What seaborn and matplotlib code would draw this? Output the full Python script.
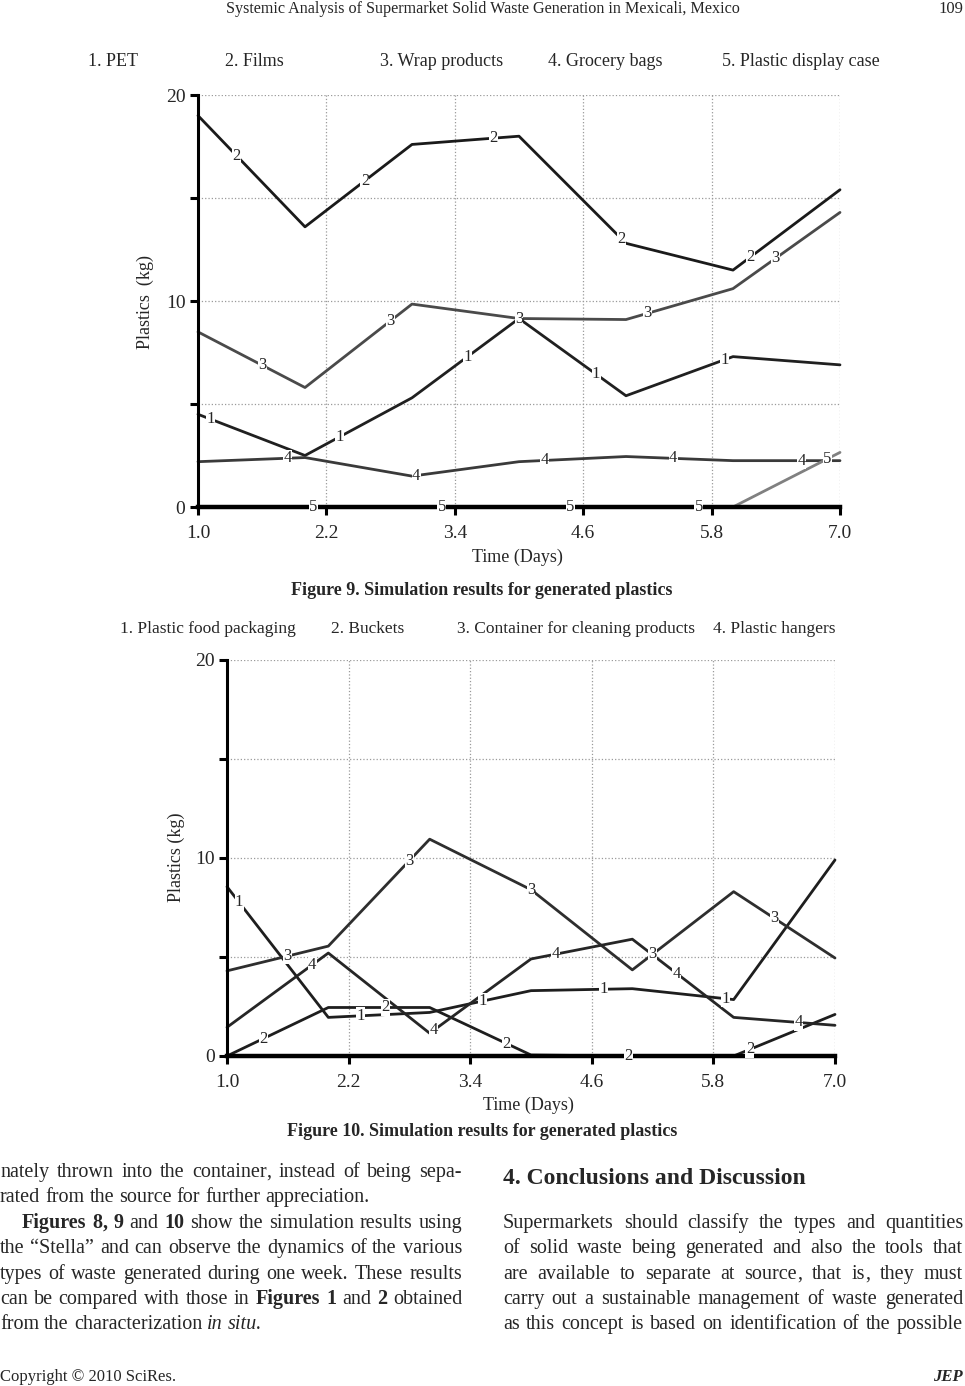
import numpy as np
import pandas as pd
import matplotlib
matplotlib.use('Agg')
import matplotlib.pyplot as plt
import seaborn as sns

# simulated days
days = [1, 2, 3, 4, 5, 6, 7]

# Figure 9 - plastics (kg)
pet = [4.5, 2.5, 5.3, 9.15, 5.4, 7.3, 6.9]
films = [19.0, 13.6, 17.6, 18.0, 12.8, 11.5, 15.4]
wrap = [8.5, 5.8, 9.85, 9.15, 9.1, 10.6, 14.3]
grocery = [2.2, 2.4, 1.5, 2.2, 2.45, 2.25, 2.25]
display_case = [0, 0, 0, 0, 0, 0, 2.65]
fig9_names = ["1. PET", "2. Films", "3. Wrap products", "4. Grocery bags", "5. Plastic display case"]

# Figure 10 - plastics (kg)
food_pack = [8.55, 1.95, 2.2, 3.3, 3.4, 2.85, 9.9]
buckets = [0, 2.45, 2.45, 0.05, 0, 0, 2.1]
cleaning = [4.3, 5.55, 10.95, 8.4, 4.35, 8.3, 4.95]
hangers = [1.45, 5.2, 1.15, 4.9, 5.9, 1.95, 1.55]
fig10_names = ["1. Plastic food packaging", "2. Buckets", "3. Container for cleaning products",
               "4. Plastic hangers"]

xticks = [1.0, 2.2, 3.4, 4.6, 5.8, 7.0]
yticks = [0, 5, 10, 15, 20]
ytick_labels = ["0", "", "10", "", "20"]

sns.set_theme(style="white")
SERIF = 'Liberation Serif'
plt.rcParams['font.family'] = SERIF

W, H = 965, 1386
fig = plt.figure(figsize=(W / 100, H / 100), dpi=100)


def px(x, y):
    return x / W, 1 - y / H


def draw_chart(ax, series, colors):
    for k, (vals, col) in enumerate(zip(series, colors)):
        sns.lineplot(x=days, y=vals, color=col, lw=2.0, ax=ax, clip_on=False, zorder=3)
        # numbered labels along each line
        lx = 1.12 + 0.24 * k + 1.2 * np.arange(5)
        ly = np.interp(lx, days, vals)
        for a, b in zip(lx, ly):
            ax.text(a, b, str(k + 1), fontsize=12, family=SERIF, ha='center', va='center',
                    zorder=5, bbox=dict(facecolor='white', edgecolor='none', pad=0.2))
    ax.set_xlim(1, 7)
    ax.set_ylim(0, 20)
    ax.set_xticks(xticks)
    ax.set_xticklabels([f"{t:.1f}" for t in xticks])
    ax.set_yticks(yticks)
    ax.set_yticklabels(ytick_labels)
    ax.grid(True, ls=':', color='#9a9a9a', lw=0.9)
    ax.set_axisbelow(True)
    for s in ['top', 'right']:
        ax.spines[s].set_visible(False)
    ax.spines['left'].set_linewidth(2.2)
    ax.spines['bottom'].set_linewidth(3.2)
    ax.spines['left'].set_color('black')
    ax.spines['bottom'].set_color('black')
    ax.spines['left'].set_zorder(6)
    ax.spines['bottom'].set_zorder(4)
    ax.tick_params(direction='out', length=6, width=2.2, color='black', labelsize=14, pad=3,
                   left=True, bottom=True)
    ax.tick_params(axis='x', pad=7)
    ax.set_xlabel("")
    ax.set_ylabel("")


# ---- Figure 9
ax1 = fig.add_axes([198 / W, 1 - 507 / H, 642 / W, 412 / H])
draw_chart(ax1, [pet, films, wrap, grocery, display_case],
           ['#202020', '#1a1a1a', '#4a4a4a', '#3a3a3a', '#808080'])
for name, x in zip(fig9_names, [88, 225, 380, 548, 722]):
    fig.text(*px(x, 62), name, fontsize=13, va='center', ha='left')
fig.text(*px(145, 302), "Plastics  (kg)", fontsize=13, rotation=90, ha='center', va='center')
fig.text(*px(517, 557), "Time (Days)", fontsize=13, ha='center', va='center')
fig.text(*px(482, 591), "Figure 9. Simulation results for generated plastics", fontsize=13,
         weight='bold', ha='center', va='center')

# ---- Figure 10
ax2 = fig.add_axes([227 / W, 1 - 1056 / H, 608 / W, 396 / H])
draw_chart(ax2, [food_pack, buckets, cleaning, hangers],
           ['#1e1e1e', '#1e1e1e', '#2e2e2e', '#262626'])
for name, x in zip(fig10_names, [120, 331, 457, 713]):
    fig.text(*px(x, 629), name, fontsize=12.5, va='center', ha='left')
fig.text(*px(176, 857), "Plastics (kg)", fontsize=13, rotation=90, ha='center', va='center')
fig.text(*px(528, 1105), "Time (Days)", fontsize=13, ha='center', va='center')
fig.text(*px(482, 1132), "Figure 10. Simulation results for generated plastics", fontsize=13,
         weight='bold', ha='center', va='center')

# ---- page header / footer
fig.text(*px(483, 9), "Systemic Analysis of Supermarket Solid Waste Generation in Mexicali, Mexico",
         fontsize=11.6, ha='center', va='center')
fig.text(*px(963, 9), "109", fontsize=12, ha='right', va='center')
fig.text(*px(0, 1377), "Copyright \u00a9 2010 SciRes.", fontsize=12, ha='left', va='center')
fig.text(*px(963, 1377), "JEP", fontsize=12, ha='right', va='center', weight='bold', style='italic')

# ---- body text, justified word by word
renderer = fig.canvas.get_renderer()
BODY = 14.5


def text_width(s, wt, st):
    t = fig.text(0, 0, s, fontsize=BODY, family=SERIF, weight=wt, style=st)
    w = t.get_window_extent(renderer).width
    t.remove()
    return w


def put_line(line, x0, x1, yc, justify=True):
    words = []
    for w in line.split(' '):
        wt, st = 'normal', 'normal'
        if w.startswith('**'):
            w, wt = w[2:], 'bold'
        elif w.startswith('__'):
            w, st = w[2:], 'italic'
        full = text_width(w, wt, st)
        # trailing comma drawn as its own piece, butted against the word
        if w.endswith(',') and len(w) > 1:
            pieces = [(w[:-1], 0.0), (',', full - text_width(',', wt, st))]
        else:
            pieces = [(w, 0.0)]
        objs = []
        for p, off in pieces:
            t = fig.text(0, 1 - (yc + 6) / H, p, fontsize=BODY, family=SERIF, weight=wt,
                         style=st, ha='left', va='baseline')
            objs.append((t, off))
        words.append((objs, full))
    widths = [f for _, f in words]
    space = BODY * 100 / 72 * 0.25
    if justify and len(words) > 1:
        gap = (x1 - x0 - sum(widths)) / (len(words) - 1)
    else:
        gap = space
    x = x0
    for (objs, full) in words:
        for t, off in objs:
            t.set_x((x + off) / W)
        x += full + gap


left_lines = [
    ("nately thrown into the container, instead of being sepa-", 0, True),
    ("rated from the source for further appreciation.", 0, False),
    ("**Figures **8, **9 and **10 show the simulation results using", 22, True),
    ("the \u201cStella\u201d and can observe the dynamics of the various", 0, True),
    ("types of waste generated during one week. These results", 0, True),
    ("can be compared with those in **Figures **1 and **2 obtained", 0, True),
    ("from the characterization __in __situ.", 0, False),
]
ys = [1171, 1196, 1222, 1247, 1273, 1298, 1323]
for (txt, ind, just), y in zip(left_lines, ys):
    put_line(txt, ind, 462, y, just)

fig.text(*px(503, 1178), "4. Conclusions and Discussion", fontsize=17, weight='bold',
         ha='left', va='center')
right_lines = [
    "Supermarkets should classify the types and quantities",
    "of solid waste being generated and also the tools that",
    "are available to separate at source, that is, they must",
    "carry out a sustainable management of waste generated",
    "as this concept is based on identification of the possible",
]
for txt, y in zip(right_lines, ys[2:]):
    put_line(txt, 503, 963, y, True)

fig.savefig("out.png", dpi=100)
